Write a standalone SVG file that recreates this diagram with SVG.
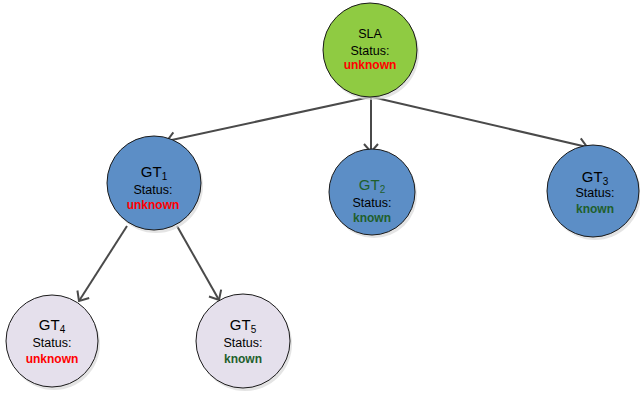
<svg xmlns="http://www.w3.org/2000/svg" width="640" height="395" viewBox="0 0 640 395">
<defs>
<style>
.t{font-family:"Liberation Sans",Arial,sans-serif;text-anchor:middle;fill:#000}
.s{font-size:12.5px}
.g{font-size:15px}
.b{font-size:12px;font-weight:bold}
.red{fill:#ff0000}
.grn{fill:#1f5f2c}
.n{stroke:#1a1a1a;stroke-width:1}
.sh{fill:#d9d9d9;opacity:0.7}
.c{stroke:#4a4a4a;stroke-width:2;fill:none;marker-end:url(#ah)}
</style>
<marker id="ah" markerUnits="userSpaceOnUse" markerWidth="20" markerHeight="20" refX="10" refY="10" orient="auto" viewBox="0 0 20 20">
<path d="M2,3 L10,10 L2,17" fill="none" stroke="#4a4a4a" stroke-width="2"/>
</marker>
</defs>
<g id="connectors">
<line class="c" x1="370" y1="97" x2="167" y2="141"/>
<line class="c" x1="371" y1="97" x2="371" y2="152"/>
<line class="c" x1="372" y1="97" x2="587" y2="147"/>
<line class="c" x1="127" y1="226" x2="79" y2="301"/>
<line class="c" x1="177" y1="226" x2="219" y2="300"/>
</g>
<g id="SLA">
<circle class="sh" cx="372" cy="53" r="47"/>
<circle class="n" cx="370" cy="50" r="47" fill="#8fcb42"/>
<text class="t s" x="370" y="38">SLA</text>
<text class="t s" x="370" y="55">Status:</text>
<text class="t b red" x="370" y="69">unknown</text>
</g>
<g id="GT1">
<circle class="sh" cx="156" cy="186" r="47"/>
<circle class="n" cx="154" cy="183" r="47" fill="#5c8ec6"/>
<text class="t g" x="154" y="177">GT<tspan font-size="10" dy="3">1</tspan></text>
<text class="t s" x="153" y="194">Status:</text>
<text class="t b red" x="153" y="209">unknown</text>
</g>
<g id="GT2">
<circle class="sh" cx="374" cy="195" r="43"/>
<circle class="n" cx="372" cy="192" r="43" fill="#5c8ec6"/>
<text class="t g grn" x="372" y="190">GT<tspan font-size="10" dy="3">2</tspan></text>
<text class="t s" x="372" y="207">Status:</text>
<text class="t b grn" x="372" y="222">known</text>
</g>
<g id="GT3">
<circle class="sh" cx="595" cy="194" r="46"/>
<circle class="n" cx="593" cy="191" r="46" fill="#5c8ec6"/>
<text class="t g" x="595" y="182">GT<tspan font-size="10" dy="3">3</tspan></text>
<text class="t s" x="595" y="197">Status:</text>
<text class="t b grn" x="595" y="213">known</text>
</g>
<g id="GT4">
<circle class="sh" cx="54" cy="344" r="46"/>
<circle class="n" cx="52" cy="341" r="46" fill="#e5e0ec"/>
<text class="t g" x="52" y="330">GT<tspan font-size="10" dy="3">4</tspan></text>
<text class="t s" x="52" y="347">Status:</text>
<text class="t b red" x="52" y="363">unknown</text>
</g>
<g id="GT5">
<circle class="sh" cx="245" cy="344" r="47"/>
<circle class="n" cx="243" cy="341" r="47" fill="#e5e0ec"/>
<text class="t g" x="243" y="330">GT<tspan font-size="10" dy="3">5</tspan></text>
<text class="t s" x="243" y="347">Status:</text>
<text class="t b grn" x="243" y="363">known</text>
</g>
</svg>
